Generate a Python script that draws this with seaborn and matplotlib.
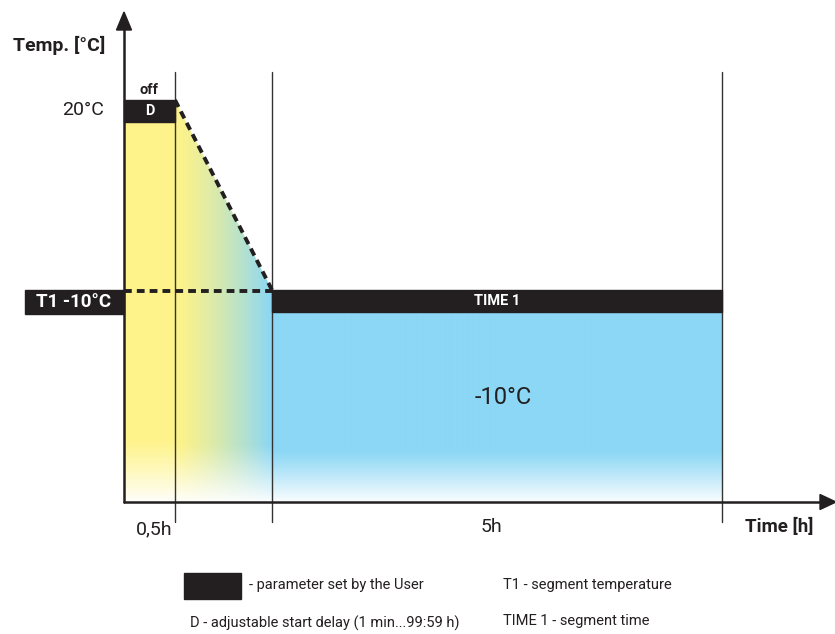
import matplotlib
matplotlib.use("Agg")
import matplotlib.pyplot as plt
from matplotlib.patches import Rectangle, Polygon
import seaborn as sns
import numpy as np

# schematic layout of the programme (x positions of segment edges)
segment_edges = [124, 175, 272, 722]          # y-axis, end of delay, end of ramp, end of TIME 1
segment_labels = ["0,5h", "5h"]
temps = [20, -10]                              # start temperature, T1 set point
temp_rows = [100, 290]                         # rows of the two temperature levels
axis_row = 502

yellow = np.array([254, 243, 138]) / 255
blue = np.array([139, 215, 245]) / 255
dark = "#231f20"


def temp_y(t):
    # linear map temperature -> row in the schematic
    return temp_rows[0] + (t - temps[0]) * (temp_rows[1] - temp_rows[0]) / (temps[1] - temps[0])


def fade(rows, start, stop):
    a = np.ones_like(rows, dtype=float)
    m = rows > start
    a[m] = 1 - 0.95 * ((rows[m] - start) / (stop - start)) ** 1.1
    return np.clip(a, 0.05, 1)


def region_img(x0, x1, y0, y1, c0, c1, fstart, gamma=1.0):
    w, h = int(x1 - x0), int(y1 - y0)
    xs = np.linspace(0, 1, w) ** gamma
    rows = np.linspace(y0, y1, h)
    col = c0[None, :] * (1 - xs[:, None]) + c1[None, :] * xs[:, None]
    a = fade(rows, fstart, y1)
    img = col[None, :, :] * a[:, None, None] + (1 - a[:, None, None])
    return img


sns.set_theme(style="white")
plt.rcParams["font.family"] = ["Roboto", "DejaVu Sans"]

fig = plt.figure(figsize=(8.35, 6.34), dpi=100)
ax = fig.add_axes([0, 0, 1, 1])
ax.set_xlim(0, 835)
ax.set_ylim(634, 0)
ax.axis("off")

x0, x1, x2, x3 = segment_edges
y20, y10 = temp_y(temps[0]), temp_y(temps[1])
bar_h = 22

# yellow delay column
ax.imshow(region_img(x0, x1, y20 + bar_h, axis_row, yellow, yellow, 440),
          extent=(x0, x1, axis_row, y20 + bar_h), aspect="auto", zorder=1)
# ramp region, gradient clipped by the ramp
im = ax.imshow(region_img(x1, x2, y20, axis_row, yellow, blue, 445, gamma=1.3),
               extent=(x1, x2, axis_row, y20), aspect="auto", zorder=1)
clip = Polygon([[x1, y20], [x2, y10], [x2, axis_row], [x1, axis_row]], closed=True,
               transform=ax.transData, facecolor="none", edgecolor="none")
ax.add_patch(clip)
im.set_clip_path(clip)
# blue hold segment
ax.imshow(region_img(x2, x3, y10 + bar_h, axis_row, blue, blue, 450),
          extent=(x2, x3, axis_row, y10 + bar_h), aspect="auto", zorder=1)

# vertical segment lines
for xe in segment_edges[1:]:
    ax.plot([xe, xe], [72, 522], color="#333333", lw=1.0, zorder=3)

# black parameter bars
ax.add_patch(Rectangle((x0, y20), x1 - x0, bar_h, color=dark, zorder=4))
ax.add_patch(Rectangle((x2, y10), x3 - x2, bar_h, color=dark, zorder=4))
ax.add_patch(Rectangle((25, y10), x0 - 25, 24, color=dark, zorder=4))

# dashed temperature profile
sns.lineplot(x=[x1, x2], y=[y20, y10], ax=ax, color=dark, lw=2.8,
             linestyle=(0, (2.0, 1.3)), zorder=5)
sns.lineplot(x=[x0, x2], y=[y10 + 1, y10 + 1], ax=ax, color=dark, lw=2.8,
             linestyle=(0, (2.0, 1.3)), zorder=5)

# axes with arrows
ax.plot([x0, x0], [axis_row, 26], color=dark, lw=1.8, zorder=6)
ax.plot([x0, 824], [axis_row, axis_row], color=dark, lw=1.8, zorder=6)
ax.add_patch(Polygon([[x0 - 7.5, 30], [x0 + 7.5, 30], [x0, 12]], color=dark, zorder=6))
ax.add_patch(Polygon([[820, axis_row - 7.5], [820, axis_row + 7.5], [836, axis_row]],
                     color=dark, zorder=6))

# texts
ax.text(13, 45, "Temp. [°C]", fontsize=14, fontweight="bold", color=dark, va="center")
ax.text(104, y20 + 10, f"{temps[0]}°C", fontsize=14, color=dark, va="center", ha="right")
ax.text((x0 + x1) / 2, y20 - 10, "off", fontsize=10.5, fontweight="bold", color=dark,
        ha="center", va="center")
ax.text((x0 + x1) / 2, y20 + 11, "D", fontsize=10.5, fontweight="bold", color="white",
        ha="center", va="center", zorder=7)
ax.text(74, y10 + 12, f"T1 {temps[1]}°C", fontsize=13.5, fontweight="bold", color="white",
        ha="center", va="center", zorder=7)
ax.text((x2 + x3) / 2, y10 + 11, "TIME 1", fontsize=10.5, fontweight="bold", color="white",
        ha="center", va="center", zorder=7)
ax.text((x2 + x3) / 2 + 6, 398, f"{temps[1]}°C", fontsize=17, color=dark,
        ha="center", va="center", zorder=7)

ax.text(x1 - 3, 529, segment_labels[0], fontsize=14, color=dark, ha="right", va="center")
ax.text((x2 + x3) / 2 - 6, 527, segment_labels[1], fontsize=14, color=dark, ha="center", va="center")
ax.text(813, 527, "Time [h]", fontsize=13.5, fontweight="bold", color=dark, ha="right", va="center")

# legend
ax.add_patch(Rectangle((184, 573), 57, 26, color=dark, zorder=4))
ax.text(249, 585, "- parameter set by the User", fontsize=10.5, color=dark, va="center")
ax.text(503, 585, "T1 - segment temperature", fontsize=10.5, color=dark, va="center")
ax.text(190, 623, "D - adjustable start delay (1 min...99:59 h)", fontsize=10.5, color=dark, va="center")
ax.text(503, 621, "TIME 1 - segment time", fontsize=10.5, color=dark, va="center")

fig.savefig("out.png", dpi=100, facecolor="white")
